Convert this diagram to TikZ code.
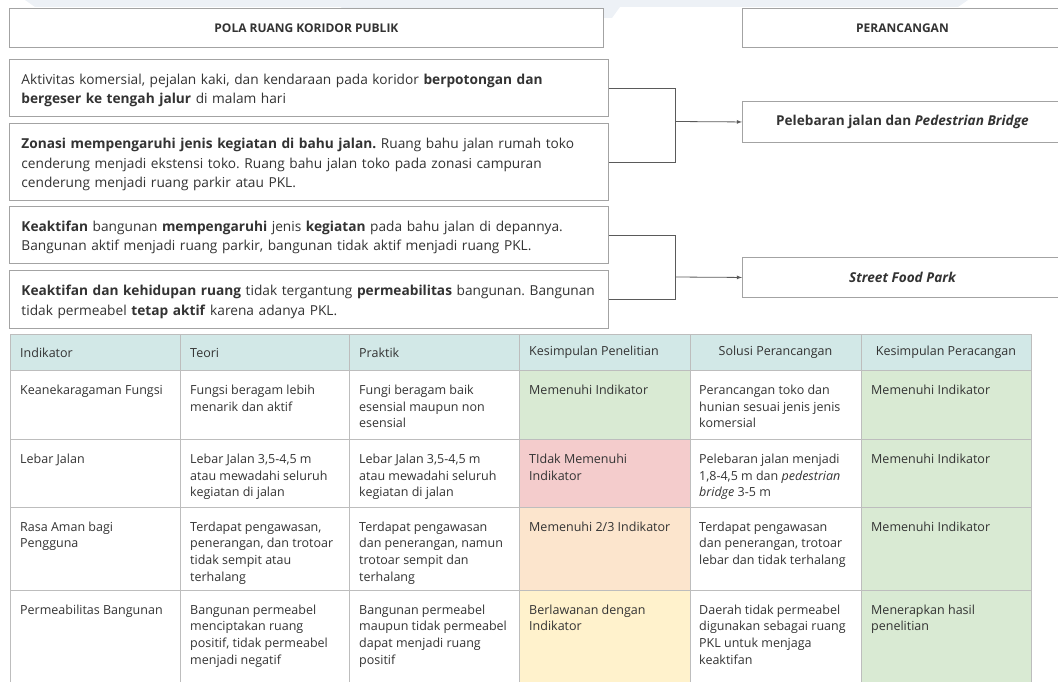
\documentclass[tikz,border=0pt]{standalone}
\usepackage{fontspec}
\setmainfont{Open Sans}
\usepackage{tikz}
\tikzset{>=latex}
\usetikzlibrary{arrows,positioning,calc}
\frenchspacing

\definecolor{boxline}{HTML}{A3A3A3}
\definecolor{gridline}{HTML}{BDBDBD}
\definecolor{linkline}{HTML}{5A5A5A}
\definecolor{ink}{HTML}{333333}
\definecolor{hdrfill}{HTML}{D2E8E7}
\definecolor{okfill}{HTML}{D9EAD3}
\definecolor{nofill}{HTML}{F4CCCC}
\definecolor{midfill}{HTML}{FCE5CD}
\definecolor{warnfill}{HTML}{FFF2CC}
\definecolor{wmark}{HTML}{EDF1F6}

\tikzset{
  patbox/.style={draw=boxline, line width=0.9pt, fill=white, anchor=north west,
    inner xsep=12pt, inner ysep=0pt, align=left, text=ink,
    font=\fontsize{13.7}{19.5}\selectfont},
  titlebox/.style={draw=boxline, line width=0.9pt, fill=white, anchor=north west,
    inner sep=0pt, align=center, text=ink},
  link/.style={draw=linkline, line width=0.8pt},
  celltext/.style={anchor=north west, inner sep=0pt, align=left, text=ink,
    font=\fontsize{12.5}{16.6}\selectfont},
  headtext/.style={inner sep=0pt, text=ink, font=\fontsize{12.5}{16.6}\selectfont}
}
\newcommand{\topstrut}{\rule{0pt}{15.5pt}}

\begin{document}
\begin{tikzpicture}[x=1pt,y=-1pt]
\useasboundingbox (0,0) rectangle (1058,682);
\clip (0,0) rectangle (1058,682);

% faint watermark band at the top
\fill[wmark] (25,0) -- (968,0) -- (958,7) -- (35,7) -- cycle;
\fill[wmark] (335,0) -- (625,0) -- (612,18) -- (350,18) -- cycle;

% left column: pola ruang
\node[titlebox, minimum width=594pt, minimum height=39pt,
  font=\fontsize{12}{14}\selectfont\bfseries] (polahead) at (9,8) {POLA RUANG KORIDOR PUBLIK};
\node[patbox, text width=575pt, minimum height=57pt] (pola1) at (9,59)
  {\topstrut Aktivitas komersial, pejalan kaki, dan kendaraan pada koridor \textbf{berpotongan dan}\\
   \textbf{bergeser ke tengah jalur} di malam hari};
\node[patbox, text width=575pt, minimum height=77pt] (pola2) at (9,123)
  {\topstrut\textbf{Zonasi mempengaruhi jenis kegiatan di bahu jalan.} Ruang bahu jalan rumah toko\\
   cenderung menjadi ekstensi toko. Ruang bahu jalan toko pada zonasi campuran\\
   cenderung menjadi ruang parkir atau PKL.};
\node[patbox, text width=575pt, minimum height=57pt] (pola3) at (9,206)
  {\topstrut\textbf{Keaktifan} bangunan \textbf{mempengaruhi} jenis \textbf{kegiatan} pada bahu jalan di depannya.\\
   Bangunan aktif menjadi ruang parkir, bangunan tidak aktif menjadi ruang PKL.};
\node[patbox, text width=575pt, minimum height=58pt] (pola4) at (9,270)
  {\topstrut\textbf{Keaktifan dan kehidupan ruang} tidak tergantung \textbf{permeabilitas} bangunan. Bangunan\\
   tidak permeabel \textbf{tetap aktif} karena adanya PKL.};

% right column: perancangan
\node[titlebox, minimum width=320pt, minimum height=39pt,
  font=\fontsize{12}{14}\selectfont\bfseries] (ranchead) at (742,8) {PERANCANGAN};
\node[titlebox, minimum width=320pt, minimum height=41pt,
  font=\fontsize{13.6}{15}\selectfont\bfseries] (ranc1) at (742,101)
  {Pelebaran jalan dan \textit{Pedestrian Bridge}};
\node[titlebox, minimum width=320pt, minimum height=40pt,
  font=\fontsize{13.6}{15}\selectfont\bfseries\itshape] (ranc2) at (742,257)
  {Street Food Park};

% connectors
\coordinate (join1) at (675,121.5);
\coordinate (join2) at (675,277);
\draw[link] (pola1.east) -| (join1);
\draw[link] (pola2.east) -| (join1);
\draw[link,->] (join1) -- (ranc1.west);
\draw[link] (pola3.east) -| (join2);
\draw[link] (pola4.east) -| (join2);
\draw[link,->] (join2) -- (ranc2.west);

% table: fills
\fill[hdrfill] (10,334) rectangle (1031,370);
\fill[okfill] (519,370) rectangle (690,439);
\fill[nofill] (519,439) rectangle (690,507);
\fill[midfill] (519,507) rectangle (690,590);
\fill[warnfill] (519,590) rectangle (690,700);
\fill[okfill] (861,370) rectangle (1031,700);

% table: grid
\foreach \ry in {334,370,439,507,590}
  \draw[gridline, line width=0.9pt] (10,\ry) -- (1031,\ry);
\foreach \cx in {10,180,349,519,690,861,1031}
  \draw[gridline, line width=0.9pt] (\cx,334) -- (\cx,700);

% table: header
\node[headtext, anchor=west] (hInd) at (20,352.5) {Indikator};
\node[headtext, anchor=west] (hTeo) at (190,352.5) {Teori};
\node[headtext, anchor=west] (hPra) at (359,352.5) {Praktik};
\node[headtext, anchor=west] (hKsp) at (529,352.5) {Kesimpulan Penelitian};
\node[headtext] (hSol) at (775.5,352.5) {Solusi Perancangan};
\node[headtext] (hKsr) at (946,352.5) {Kesimpulan Peracangan};

% row 1
\node[celltext] (r1a) at (20,385) {Keanekaragaman Fungsi};
\node[celltext] (r1b) at (190,385) {Fungsi beragam lebih\\menarik dan aktif};
\node[celltext] (r1c) at (359,385) {Fungi beragam baik\\esensial maupun non\\esensial};
\node[celltext] (r1d) at (529,385) {Memenuhi Indikator};
\node[celltext] (r1e) at (699,385) {Perancangan toko dan\\hunian sesuai jenis jenis\\komersial};
\node[celltext] (r1f) at (871,385) {Memenuhi Indikator};

% row 2
\node[celltext] (r2a) at (20,454) {Lebar Jalan};
\node[celltext] (r2b) at (190,454) {Lebar Jalan 3,5-4,5 m\\atau mewadahi seluruh\\kegiatan di jalan};
\node[celltext] (r2c) at (359,454) {Lebar Jalan 3,5-4,5 m\\atau mewadahi seluruh\\kegiatan di jalan};
\node[celltext] (r2d) at (529,454) {TIdak Memenuhi\\Indikator};
\node[celltext] (r2e) at (699,454) {Pelebaran jalan menjadi\\1,8-4,5 m dan \textit{pedestrian}\\\textit{bridge} 3-5 m};
\node[celltext] (r2f) at (871,454) {Memenuhi Indikator};

% row 3
\node[celltext] (r3a) at (20,521.5) {Rasa Aman bagi\\Pengguna};
\node[celltext] (r3b) at (190,521.5) {Terdapat pengawasan,\\penerangan, dan trotoar\\tidak sempit atau\\terhalang};
\node[celltext] (r3c) at (359,521.5) {Terdapat pengawasan\\dan penerangan, namun\\trotoar sempit dan\\terhalang};
\node[celltext] (r3d) at (529,521.5) {Memenuhi 2/3 Indikator};
\node[celltext] (r3e) at (699,521.5) {Terdapat pengawasan\\dan penerangan, trotoar\\lebar dan tidak terhalang};
\node[celltext] (r3f) at (871,521.5) {Memenuhi Indikator};

% row 4
\node[celltext] (r4a) at (20,604.5) {Permeabilitas Bangunan};
\node[celltext] (r4b) at (190,604.5) {Bangunan permeabel\\menciptakan ruang\\positif, tidak permeabel\\menjadi negatif};
\node[celltext] (r4c) at (359,604.5) {Bangunan permeabel\\maupun tidak permeabel\\dapat menjadi ruang\\positif};
\node[celltext] (r4d) at (529,604.5) {Berlawanan dengan\\Indikator};
\node[celltext] (r4e) at (699,604.5) {Daerah tidak permeabel\\digunakan sebagai ruang\\PKL untuk menjaga\\keaktifan};
\node[celltext] (r4f) at (871,604.5) {Menerapkan hasil\\penelitian};
\end{tikzpicture}
\end{document}
